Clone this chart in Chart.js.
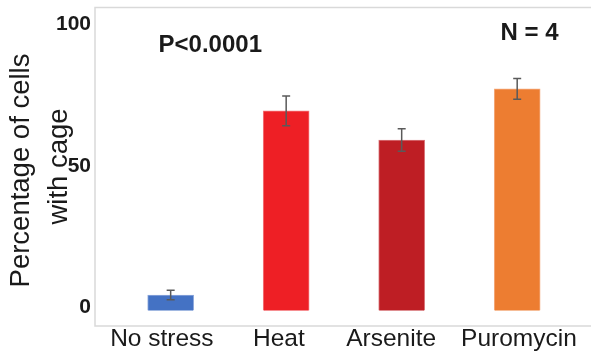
<!DOCTYPE html>
<html>
<head>
<meta charset="utf-8">
<script src="https://cdn.jsdelivr.net/npm/chart.js@4"></script>
<style>
  html, body { margin: 0; padding: 0; background: #ffffff; }
  #wrap { width: 591px; height: 354px; position: relative; }
</style>
</head>
<body>
<div id="wrap"><canvas id="chart"></canvas></div>
<script>
// Conditions and measured percentages (mean and SEM)
const categories = ['No stress', 'Heat', 'Arsenite', 'Puromycin'];
const meanValues = [5.5, 70.7, 60.4, 78.5];
const semValues = [1.7, 5.3, 4.0, 3.7];
const barColors = ['#4472C4', '#EE1F25', '#BE1E24', '#ED7D31'];
const barEdges = ['#8FA9DC', '#F47A7E', '#D9777B', '#F4AD80'];
const yTicks = [0, 50, 100];
const yTitleLines = ['Percentage of cells', 'with cage'];
const notes = [
  { text: 'P<0.0001', x: 0.343, y: 94 },
  { text: 'N = 4', x: 3.107, y: 98.2 }
];

const textColor = '#1a1a1a';
const fontFamily = '"Liberation Sans", Arial, Helvetica, sans-serif';
// Category labels sit slightly left of their bars
const labelShift = [-0.076, -0.063, -0.091, 0.015];

// Light grey frame around the plotting area
const framePlugin = {
  id: 'frame',
  beforeDatasetsDraw(chart) {
    const a = chart.chartArea, ctx = chart.ctx;
    ctx.save();
    ctx.strokeStyle = '#d9d9d9';
    ctx.lineWidth = 1.5;
    ctx.beginPath();
    ctx.moveTo(chart.width + 2, a.top);
    ctx.lineTo(a.left, a.top);
    ctx.lineTo(a.left, a.bottom);
    ctx.lineTo(chart.width + 2, a.bottom);
    ctx.stroke();
    ctx.restore();
  }
};

// SEM whiskers on each bar
const errorBarPlugin = {
  id: 'errorBars',
  afterDatasetsDraw(chart) {
    const xs = chart.scales.x, ys = chart.scales.y, ctx = chart.ctx;
    ctx.save();
    ctx.strokeStyle = '#5a5a5a';
    ctx.lineWidth = 1.5;
    meanValues.forEach((m, i) => {
      const px = xs.getPixelForValue(i);
      const hi = ys.getPixelForValue(m + semValues[i]);
      const lo = ys.getPixelForValue(m - semValues[i]);
      ctx.beginPath();
      ctx.moveTo(px, hi); ctx.lineTo(px, lo);
      ctx.moveTo(px - 4, hi); ctx.lineTo(px + 4, hi);
      ctx.moveTo(px - 4, lo); ctx.lineTo(px + 4, lo);
      ctx.stroke();
    });
    ctx.restore();
  }
};

// Statistics notes and the two-line y-axis title
const textPlugin = {
  id: 'texts',
  afterDraw(chart) {
    const xs = chart.scales.x, ys = chart.scales.y, ctx = chart.ctx;
    ctx.save();
    ctx.fillStyle = textColor;
    ctx.textAlign = 'center';
    ctx.textBaseline = 'middle';
    ctx.font = 'bold 24px ' + fontFamily;
    notes.forEach(n => {
      ctx.fillText(n.text, xs.getPixelForValue(n.x), ys.getPixelForValue(n.y));
    });
    ctx.font = '27.5px ' + fontFamily;
    ctx.textBaseline = 'alphabetic';
    const titlePos = [{ x: 29.3, y: 170.5 }, { x: 66.5, y: 166.5 }];
    yTitleLines.forEach((line, i) => {
      ctx.save();
      ctx.translate(titlePos[i].x, titlePos[i].y);
      ctx.rotate(-Math.PI / 2);
      ctx.fillText(line, 0, 0);
      ctx.restore();
    });
    ctx.restore();
  }
};

new Chart(document.getElementById('chart'), {
  type: 'bar',
  data: {
    datasets: [{
      data: meanValues.map((v, i) => ({ x: i, y: v })),
      backgroundColor: barColors,
      borderColor: barEdges,
      borderWidth: 1,
      barThickness: 46
    }]
  },
  options: {
    responsive: true,
    maintainAspectRatio: false,
    animation: false,
    devicePixelRatio: 1,
    layout: { padding: { top: 7.5, left: 0, right: 0, bottom: 0 } },
    plugins: { legend: { display: false }, tooltip: { enabled: false } },
    scales: {
      x: {
        type: 'linear',
        offset: false,
        min: -0.655,
        max: 3.639,
        grid: { display: false, drawTicks: false, offset: false },
        border: { display: false },
        afterBuildTicks(scale) {
          scale.ticks = categories.map((c, i) => ({ value: i + labelShift[i] }));
        },
        afterFit(scale) {
          scale.height = 28;
          scale.paddingLeft = 0; scale.paddingRight = 0;
        },
        ticks: {
          padding: -1,
          maxRotation: 0,
          autoSkip: false,
          color: textColor,
          font: { family: fontFamily, size: 24.5 },
          callback: (v, i) => categories[i]
        }
      },
      y: {
        min: -5.46,
        max: 107.3,
        grid: { display: false, drawTicks: false },
        border: { display: false },
        afterBuildTicks(scale) { scale.ticks = yTicks.map(v => ({ value: v })); },
        afterFit(scale) {
          scale.width = 95;
          scale.paddingTop = 0; scale.paddingBottom = 0;
        },
        ticks: {
          padding: 4,
          labelOffset: -3.5,
          color: textColor,
          font: { family: fontFamily, size: 21, weight: 'bold' }
        }
      }
    }
  },
  plugins: [framePlugin, errorBarPlugin, textPlugin]
});
</script>
</body>
</html>
